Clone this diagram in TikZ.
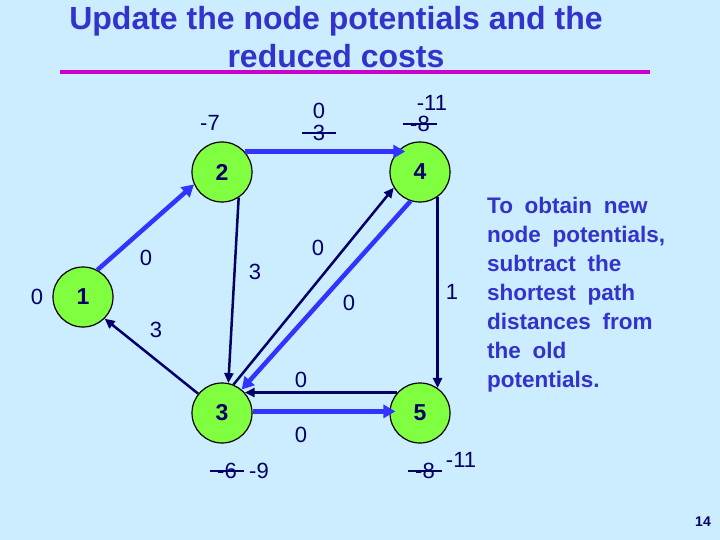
\documentclass[tikz,border=0pt]{standalone}
\usepackage{fontspec}
\setmainfont{Liberation Sans}
\usetikzlibrary{arrows.meta}
\definecolor{bgblue}{RGB}{204,236,255}
\definecolor{navy}{RGB}{0,0,102}
\definecolor{pathblue}{RGB}{51,51,255}
\definecolor{titleblue}{RGB}{51,51,204}
\definecolor{nodegreen}{RGB}{128,255,64}
\definecolor{rulemagenta}{RGB}{204,0,204}
\newcommand*{\widespaces}{\spaceskip=0.52em\relax}
\tikzset{
  vertex/.style={circle, draw=black, line width=1.2pt, fill=nodegreen,
    minimum size=60pt, inner sep=0pt, text=navy,
    font=\fontsize{23}{23}\selectfont\bfseries},
  lbl/.style={inner sep=1pt, text=navy, font=\fontsize{22}{22}\selectfont},
  arc/.style={draw=navy, line width=2.5pt, -{Triangle[length=10pt,width=9pt]}},
  patharc/.style={draw=pathblue, line width=4.5pt, -{Triangle[length=12pt,width=13pt]}},
  strike/.style={draw=navy, line width=2.5pt},
}
\begin{document}
\begin{tikzpicture}[x=1pt, y=-1pt]
  \fill[bgblue] (0,0) rectangle (720,540);

  % title
  \node [anchor=north, align=center, inner sep=0pt, text=titleblue,
    font=\fontsize{32}{38}\selectfont\bfseries] (title) at (336,6)
    {Update the node potentials and the\\reduced costs};
  \draw [rulemagenta, line width=4pt] (60,72)--(650,72);

  % nodes
  \node [vertex] (n1) at (83,297){1};
  \node [vertex] (n2) at (222,172){2};
  \node [vertex] (n3) at (222,413){3};
  \node [vertex] (n4) at (420,172){4};
  \node [vertex] (n5) at (420,413){5};

  % shortest path arcs
  \draw [patharc] (n1.62)--(n2.204);
  \draw [patharc, shorten >=-8pt] (n2.42)--(n4.138);
  \draw [patharc] (n4.252)--(n3.50);
  \draw [patharc, shorten >=-6pt] (n3.3)--(n5.177);

  % other arcs
  \draw [arc] (n3.141)--(n1.-45);
  \draw [arc] (n2.-57)--(n3.78);
  \draw [arc] (n3.68)--(n4.211);
  \draw [arc] (n4.-55)--(n5.55);
  \draw [arc] (n5.138)--(n3.42);

  % reduced costs
  \node [lbl] (c12) at (146,258){0};
  \node [lbl] (c31) at (156,330){3};
  \node [lbl] (c23) at (255,272){3};
  \node [lbl] (c34) at (318,248){0};
  \node [lbl] (c43) at (349,303){0};
  \node [lbl] (c45) at (452,292){1};
  \node [lbl] (c53) at (301,380){0};
  \node [lbl] (c35) at (301,435){0};
  \node [lbl] (c24) at (319,111){0};
  \node [lbl, inner xsep=11pt] (c24old) at (319,133){3};
  \draw [strike] (c24old.west)--(c24old.east);

  % potentials
  \node [lbl] (p1) at (37,297){0};
  \node [lbl] (p2) at (210,123){-7};
  \node [lbl] (p4) at (432,103){-11};
  \node [lbl, inner xsep=7pt] (p4old) at (420,124){-8};
  \draw [strike] (p4old.west)--(p4old.east);
  \node [lbl, inner xsep=7pt] (p3old) at (227,471){-6};
  \draw [strike] (p3old.west)--(p3old.east);
  \node [lbl] (p3) at (259,471){-9};
  \node [lbl, inner xsep=7pt] (p5old) at (425,471){-8};
  \draw [strike] (p5old.west)--(p5old.east);
  \node [lbl] (p5) at (461,460){-11};

  % explanation
  \node [anchor=north west, align=left, inner sep=0pt, text=titleblue,
    font=\fontsize{22.5}{29}\selectfont\bfseries\widespaces] (note) at (487,197)
    {To obtain new\\node potentials,\\subtract the\\shortest path\\distances from\\the old\\potentials.};

  % page number
  \node [text=navy, font=\fontsize{14}{14}\selectfont\bfseries] (page) at (703,522){14};
\end{tikzpicture}
\end{document}
